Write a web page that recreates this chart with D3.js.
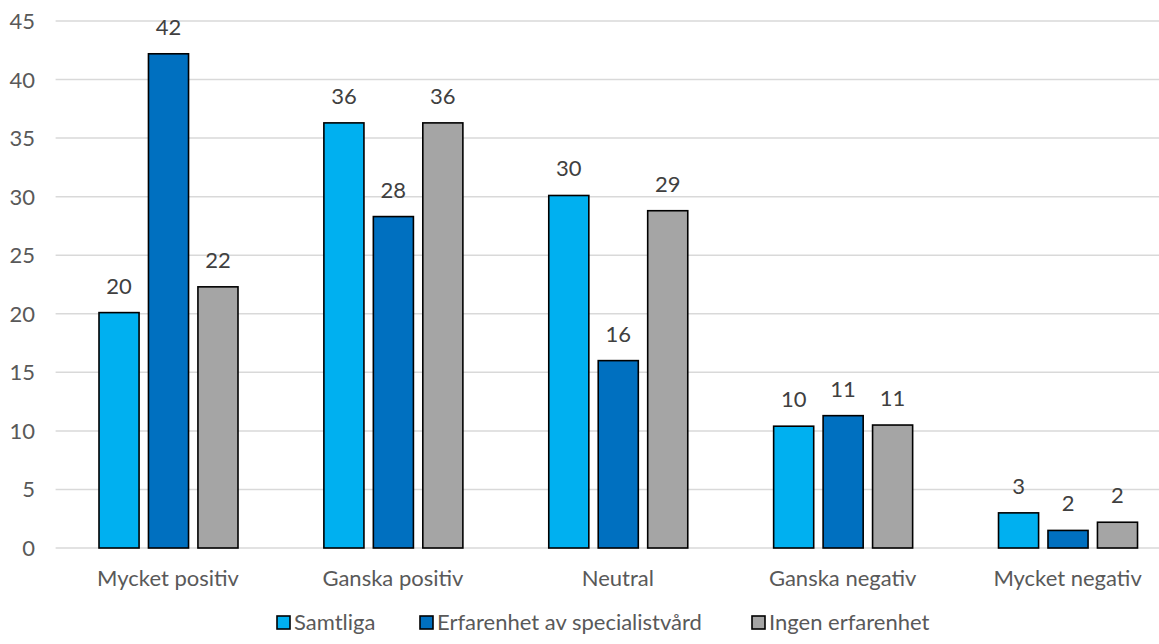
<!DOCTYPE html>
<html><head><meta charset="utf-8">
<script src="https://cdn.jsdelivr.net/npm/d3@7"></script>
<style>body{margin:0;background:#fff;} svg{display:block;}</style>
</head><body>
<svg id="c" width="1159" height="644"></svg>
<script>
const categories = ["Mycket positiv","Ganska positiv","Neutral","Ganska negativ","Mycket negativ"];
const seriesNames = ["Samtliga","Erfarenhet av specialistvård","Ingen erfarenhet"];
const samtliga = [20.1, 36.3, 30.1, 10.4, 3.0];
const erfarenhet = [42.2, 28.3, 16.0, 11.3, 1.5];
const ingen = [22.3, 36.3, 28.8, 10.5, 2.2];
const labelsSamtliga = ["20","36","30","10","3"];
const labelsErfarenhet = ["42","28","16","11","2"];
const labelsIngen = ["22","36","29","11","2"];
const yTicks = [0,5,10,15,20,25,30,35,40,45];
const colors = ["#00B0F0","#0070C0","#A5A5A5"];

const values = [samtliga, erfarenhet, ingen];
const labels = [labelsSamtliga, labelsErfarenhet, labelsIngen];
const font = "Lato, 'Open Sans', sans-serif";

const svg = d3.select("#c");
const plotLeft = 55.6, plotRight = 1180, plotTop = 21, plotBottom = 548;

const y = d3.scaleLinear().domain([0,45]).range([plotBottom, plotTop]);
const x0 = d3.scaleBand().domain(categories).range([plotLeft, plotRight]).padding(0);
const x1 = d3.scaleBand().domain(seriesNames).range([43.4, 182.4]).paddingInner(0.19);

// gridlines
svg.append("g").selectAll("line").data(yTicks).join("line")
  .attr("x1", plotLeft).attr("x2", 1159)
  .attr("y1", d=>y(d)).attr("y2", d=>y(d))
  .attr("stroke", "#D9D9D9").attr("stroke-width", 1.5);

// y axis labels
const yAxis = d3.axisLeft(y).tickValues(yTicks).tickSize(0).tickPadding(0);
const ya = svg.append("g").attr("transform", "translate(35,0)").call(yAxis);
ya.select(".domain").remove();
ya.selectAll("text").attr("font-family", font).attr("font-size", 22).attr("fill", "#595959").attr("dy","0.34em");

// x axis labels
const xAxis = d3.axisBottom(x0).tickSize(0).tickPadding(0);
const xa = svg.append("g").attr("transform", `translate(0,${plotBottom})`).call(xAxis);
xa.select(".domain").remove();
xa.selectAll("text").attr("font-family", font).attr("font-size", 22).attr("fill", "#595959").attr("dy", null).attr("y", 38);

// bars
seriesNames.forEach((s, si) => {
  const g = svg.append("g");
  g.selectAll("rect").data(categories).join("rect")
    .attr("x", c => x0(c) + x1(s))
    .attr("width", x1.bandwidth())
    .attr("y", (c,i) => y(values[si][i]))
    .attr("height", (c,i) => y(0) - y(values[si][i]))
    .attr("fill", colors[si]).attr("stroke", "#000").attr("stroke-width", 1.6);
  g.selectAll("text").data(categories).join("text")
    .attr("x", c => x0(c) + x1(s) + x1.bandwidth()/2)
    .attr("y", (c,i) => y(values[si][i]) - 19)
    .attr("text-anchor", "middle")
    .attr("font-family", font).attr("font-size", 22).attr("fill", "#404040")
    .text((c,i) => labels[si][i]);
});

// legend
const legendX = [277, 420, 752];
const lg = svg.append("g");
seriesNames.forEach((s, si) => {
  lg.append("rect").attr("x", legendX[si]).attr("y", 616).attr("width", 13).attr("height", 13)
    .attr("fill", colors[si]).attr("stroke", "#000").attr("stroke-width", 1.6);
  lg.append("text").attr("x", legendX[si] + 17).attr("y", 630)
    .attr("font-family", font).attr("font-size", 22).attr("fill", "#595959").text(s);
});
</script>
</body></html>
